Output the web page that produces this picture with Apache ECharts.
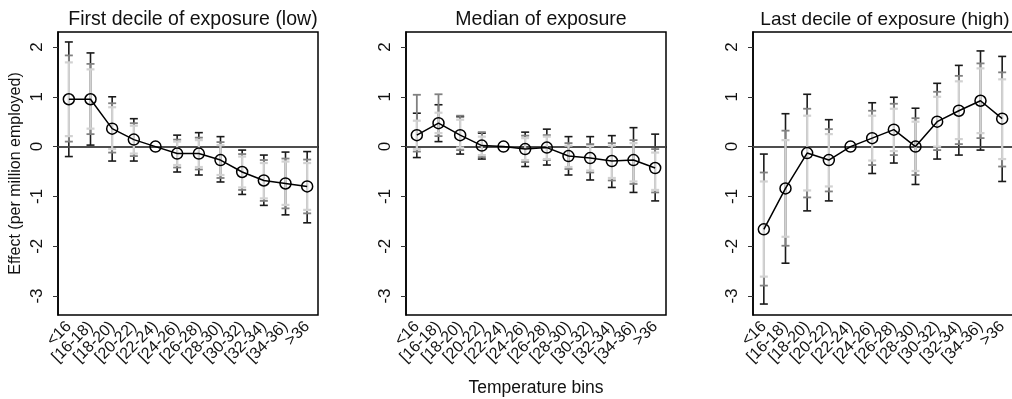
<!DOCTYPE html>
<html>
<head>
<meta charset="utf-8">
<script src="https://cdn.jsdelivr.net/npm/echarts@6/dist/echarts.min.js"></script>
<style>
  html, body { margin: 0; padding: 0; background: #fff; }
  #chart { width: 1012px; height: 399px; }
</style>
</head>
<body>
<div id="chart"></div>
<script>
// temperature bins
var bins = ['<16', '[16-18)', '[18-20)', '[20-22)', '[22-24)', '[24-26)', '[26-28)', '[28-30)', '[30-32)', '[32-34)', '[34-36)', '>36'];
var yTicks = [-3, -2, -1, 0, 1, 2];
var titles = ['First decile of exposure (low)', 'Median of exposure', 'Last decile of exposure (high)'];

// panel 1: first decile
var est1 = [0.95, 0.95, 0.36, 0.14, 0, -0.14, -0.14, -0.27, -0.51, -0.68, -0.74, -0.80];
var blackLo1 = [-0.20, 0.03, -0.29, -0.29, null, -0.51, -0.57, -0.71, -0.96, -1.18, -1.37, -1.53];
var blackHi1 = [2.10, 1.88, 1.00, 0.56, null, 0.23, 0.28, 0.20, -0.07, -0.17, -0.11, -0.10];
var darkLo1 = [0.10, 0.25, -0.12, -0.19, null, -0.42, -0.46, -0.63, -0.87, -1.09, -1.24, -1.34];
var darkHi1 = [1.83, 1.66, 0.87, 0.47, null, 0.14, 0.18, 0.09, -0.15, -0.27, -0.24, -0.26];
var lightLo1 = [0.21, 0.36, -0.05, -0.14, null, -0.37, -0.41, -0.57, -0.82, -1.04, -1.17, -1.27];
var lightHi1 = [1.69, 1.55, 0.79, 0.42, null, 0.10, 0.13, 0.03, -0.20, -0.33, -0.30, -0.33];

// panel 2: median
var est2 = [0.23, 0.47, 0.23, 0.02, 0, -0.05, -0.02, -0.19, -0.23, -0.29, -0.27, -0.43];
var blackLo2 = [-0.22, 0.10, -0.15, -0.25, null, -0.40, -0.37, -0.57, -0.67, -0.82, -0.92, -1.09];
var blackHi2 = [0.67, 0.84, 0.60, 0.27, null, 0.29, 0.35, 0.20, 0.20, 0.22, 0.38, 0.25];
var darkLo2 = [-0.10, 0.21, -0.07, -0.21, null, -0.31, -0.27, -0.45, -0.52, -0.68, -0.75, -0.92];
var darkHi2 = [1.04, 1.05, 0.62, 0.29, null, 0.22, 0.23, 0.07, 0.05, 0.07, 0.13, -0.05];
var lightLo2 = [-0.05, 0.27, -0.02, -0.17, null, -0.27, -0.25, -0.41, -0.48, -0.63, -0.70, -0.87];
var lightHi2 = [0.52, 0.68, 0.54, 0.20, null, 0.17, 0.20, 0.02, 0.01, 0.02, 0.07, -0.12];

// panel 3: last decile
var est3 = [-1.66, -0.84, -0.13, -0.27, 0, 0.17, 0.34, 0.00, 0.50, 0.72, 0.92, 0.56];
var blackLo3 = [-3.16, -2.34, -1.29, -1.09, null, -0.54, -0.33, -0.76, -0.25, -0.17, -0.07, -0.70];
var blackHi3 = [-0.15, 0.66, 1.05, 0.54, null, 0.88, 0.99, 0.77, 1.27, 1.63, 1.92, 1.81];
var darkLo3 = [-2.79, -1.99, -1.02, -0.90, null, -0.37, -0.17, -0.57, -0.07, 0.05, 0.17, -0.40];
var darkHi3 = [-0.52, 0.32, 0.76, 0.35, null, 0.72, 0.86, 0.57, 1.10, 1.42, 1.67, 1.49];
var lightLo3 = [-2.61, -1.81, -0.88, -0.80, null, -0.28, -0.09, -0.49, 0.00, 0.15, 0.27, -0.25];
var lightHi3 = [-0.70, 0.13, 0.62, 0.25, null, 0.62, 0.76, 0.50, 1.00, 1.31, 1.57, 1.35];

var panels = [
    {est: est1, bars: [[blackLo1, blackHi1], [darkLo1, darkHi1], [lightLo1, lightHi1]]},
    {est: est2, bars: [[blackLo2, blackHi2], [darkLo2, darkHi2], [lightLo2, lightHi2]]},
    {est: est3, bars: [[blackLo3, blackHi3], [darkLo3, darkHi3], [lightLo3, lightHi3]]}
];

var barColors = ['#1a1a1a', '#808080', '#d2d2d2'];
var barWidths = [1.6, 1.8, 2.2];
var gridLeft = [58, 406, 753];
var titleCenter = [188, 536, 880];
var titleSize = [19.5, 19.5, 19];
var font = 'Liberation Sans, Arial, sans-serif';

function makeRender(color, lw) {
    return function (params, api) {
        var x = api.value(0);
        var a = api.coord([x, api.value(1)]);
        var b = api.coord([x, api.value(2)]);
        var w = 4;
        var st = {stroke: color, lineWidth: lw};
        return {
            type: 'group',
            children: [
                {type: 'line', shape: {x1: a[0], y1: a[1], x2: b[0], y2: b[1]}, style: st},
                {type: 'line', shape: {x1: a[0] - w, y1: a[1], x2: a[0] + w, y2: a[1]}, style: st},
                {type: 'line', shape: {x1: b[0] - w, y1: b[1], x2: b[0] + w, y2: b[1]}, style: st}
            ]
        };
    };
}

var myChart = echarts.init(document.getElementById('chart'));

var grids = [], xAxes = [], yAxes = [], series = [], titleList = [];

panels.forEach(function (p, k) {
    grids.push({left: gridLeft[k], top: 32, width: 260, height: 283, show: true,
        outerBoundsMode: 'none', containLabel: false,
        borderColor: '#000', borderWidth: 1.5, backgroundColor: 'transparent'});
    titleList.push({
        text: titles[k], left: titleCenter[k], top: 5, textAlign: 'center',
        textStyle: {fontFamily: font, fontSize: titleSize[k], fontWeight: 'normal', color: '#111'}
    });
    xAxes.push({
        type: 'category', gridIndex: k, data: bins, boundaryGap: true,
        name: k === 1 ? 'Temperature bins' : '', nameLocation: 'middle', nameGap: 64,
        nameTextStyle: {fontFamily: font, fontSize: 17.5, color: '#111'},
        axisLine: {lineStyle: {color: '#000', width: 1.5}},
        axisTick: {alignWithLabel: true, length: 5, lineStyle: {color: '#333'}},
        axisLabel: {rotate: 45, interval: 0, fontFamily: font, fontSize: 16, color: '#111', margin: 9}
    });
    yAxes.push({
        type: 'value', gridIndex: k, min: -3.38, max: 2.3,
        name: k === 0 ? 'Effect (per million employed)' : '', nameLocation: 'middle', nameGap: 34,
        nameRotate: 90,
        nameTextStyle: {fontFamily: font, fontSize: 16, color: '#111'},
        splitLine: {show: false},
        axisLine: {show: true, lineStyle: {color: '#000', width: 1.5}},
        axisTick: {show: true, length: 5, customValues: yTicks, lineStyle: {color: '#333'}},
        axisLabel: {rotate: 90, customValues: yTicks, fontFamily: font, fontSize: 17, color: '#111', margin: 12}
    });
    p.bars.forEach(function (pair, j) {
        var d = [];
        for (var i = 0; i < bins.length; i++) {
            if (pair[0][i] !== null) d.push([i, pair[0][i], pair[1][i]]);
        }
        series.push({
            type: 'custom', xAxisIndex: k, yAxisIndex: k, z: 3 + j,
            renderItem: makeRender(barColors[j], barWidths[j]),
            encode: {x: 0, y: [1, 2]}, data: d, silent: true
        });
    });
    series.push({
        type: 'line', xAxisIndex: k, yAxisIndex: k, data: p.est, z: 10,
        symbol: 'circle', symbolSize: 11,
        itemStyle: {color: 'rgba(0,0,0,0)', borderColor: '#000', borderWidth: 1.5},
        lineStyle: {color: '#000', width: 1.5},
        markLine: {
            silent: true, symbol: ['none', 'none'], label: {show: false},
            lineStyle: {color: '#555', type: 'solid', width: 1.5},
            data: [{yAxis: 0}]
        }
    });
});

var option = {
    animation: false,
    backgroundColor: '#fff',
    title: titleList,
    grid: grids,
    xAxis: xAxes,
    yAxis: yAxes,
    series: series
};

myChart.setOption(option);
</script>
</body>
</html>
